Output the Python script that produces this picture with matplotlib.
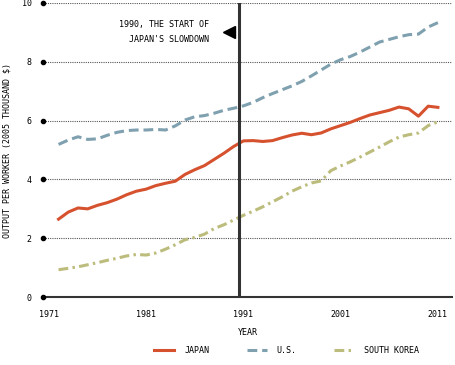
import numpy as np
import matplotlib
matplotlib.use('Agg')
from matplotlib import pyplot as plt

# datos (miles de dolares de 2005 por trabajador)
years = list(range(1972, 2012))
japan = [2.65, 2.89, 3.03, 3.00, 3.12, 3.21, 3.33, 3.48, 3.60, 3.67,
         3.79, 3.87, 3.94, 4.17, 4.33, 4.47, 4.68, 4.89, 5.12, 5.31,
         5.32, 5.29, 5.32, 5.42, 5.51, 5.57, 5.52, 5.58, 5.72, 5.83,
         5.94, 6.07, 6.19, 6.27, 6.35, 6.46, 6.40, 6.15, 6.49, 6.45]
us = [5.19, 5.34, 5.45, 5.36, 5.38, 5.50, 5.60, 5.66, 5.68, 5.68,
      5.70, 5.68, 5.82, 6.02, 6.13, 6.17, 6.25, 6.35, 6.42, 6.50,
      6.62, 6.78, 6.92, 7.05, 7.18, 7.33, 7.52, 7.72, 7.92, 8.07,
      8.18, 8.33, 8.50, 8.67, 8.76, 8.85, 8.92, 8.94, 9.18, 9.33]
korea = [0.93, 0.98, 1.03, 1.10, 1.17, 1.25, 1.32, 1.40, 1.45, 1.43,
         1.50, 1.63, 1.78, 1.95, 2.03, 2.14, 2.33, 2.46, 2.62, 2.78,
         2.92, 3.07, 3.24, 3.41, 3.60, 3.75, 3.88, 3.95, 4.30, 4.46,
         4.60, 4.76, 4.93, 5.10, 5.28, 5.44, 5.52, 5.58, 5.83, 5.96]
xticks = [1971, 1981, 1991, 2001, 2011]
yticks = [0, 2, 4, 6, 8, 10]
slowdown_year = 1990.5

font = 'DejaVu Sans Mono'
grey = '#333333'

fig = plt.figure(figsize=(4.55, 3.65), dpi=100)
ax = fig.add_axes([0.0945, 0.186, 0.9, 0.806])

xmin, xmax = 1970.4, 2012.5
ax.set_xlim(xmin, xmax)
ax.set_ylim(0, 10)

# lineas de cuadricula punteadas
for y in yticks[1:]:
    ax.axhline(y, color='#555555', lw=0.8, ls=(0, (1, 1)), zorder=1)
ax.plot([xmin] * len(yticks), yticks, 'o', color='black', ms=3,
        clip_on=False, zorder=5)

ax.plot(years, japan, color='#D6522F', lw=2.2, label='JAPAN', zorder=3)
ax.plot(years, us, color='#7FA0AF', lw=2.2, ls=(0, (3.2, 1.6)),
        label='U.S.', zorder=3)
ax.plot(years, korea, color='#BCBC7C', lw=2.2,
        ls=(0, (3.2, 1.4, 0.8, 1.4)), label='SOUTH KOREA', zorder=3)

ax.axvline(slowdown_year, color=grey, lw=2.2, zorder=4)
ax.plot([slowdown_year - 0.95], [9.0], marker='<', color='black', ms=9,
        zorder=5)
ax.text(slowdown_year - 3.0, 9.0, "1990, THE START OF\nJAPAN'S SLOWDOWN",
        ha='right', va='center', fontsize=6, family=font,
        linespacing=1.9)

for s in ['top', 'right', 'left']:
    ax.spines[s].set_visible(False)
ax.spines['bottom'].set_color(grey)
ax.spines['bottom'].set_linewidth(1.5)

ax.set_xticks(xticks)
ax.set_xticklabels([str(x) for x in xticks], family=font, fontsize=6)
ax.set_yticks(yticks)
ax.set_yticklabels([str(y) for y in yticks], family=font, fontsize=6)
ax.tick_params(length=0, pad=9)
ax.tick_params(axis='y', pad=8)

ax.set_xlabel('YEAR', family=font, fontsize=6, labelpad=7)
ax.set_ylabel('OUTPUT PER WORKER (2005 THOUSAND $)', family=font,
              fontsize=6)
ax.yaxis.set_label_coords(-0.077, 0.5)

leg = fig.legend(loc='center', bbox_to_anchor=(0.63, 0.04), ncol=3,
                 frameon=False, prop={'family': font, 'size': 6},
                 handlelength=2.4, columnspacing=4.5, handletextpad=1.2)

plt.savefig('out.png', dpi=100)
